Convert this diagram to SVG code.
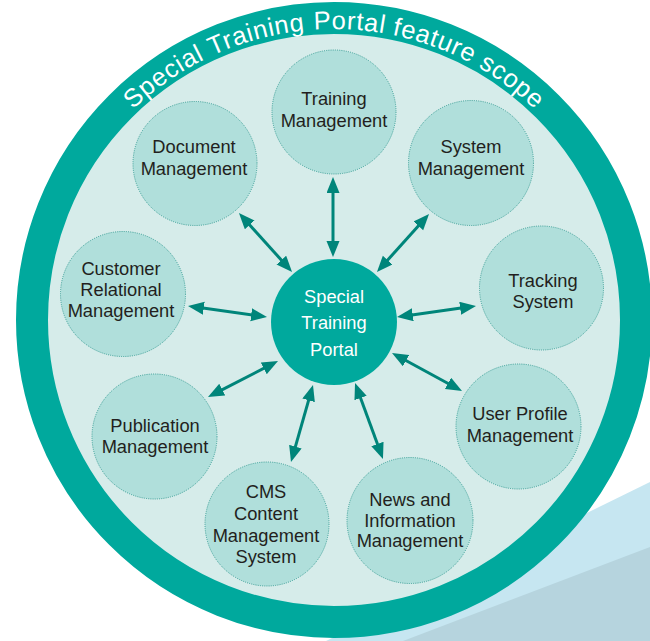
<svg xmlns="http://www.w3.org/2000/svg" width="650" height="641" viewBox="0 0 650 641">
<style>
.node circle{fill:#b0dfdb;stroke:#3a9e96;stroke-width:1;stroke-dasharray:1 1.2}
.lbl{font-family:"Liberation Sans",Arial,sans-serif;font-size:18.3px;fill:#231f20;text-anchor:middle}
.clbl{font-family:"Liberation Sans",Arial,sans-serif;font-size:18.3px;fill:#ffffff;text-anchor:middle}
.title{font-family:"Liberation Sans",Arial,sans-serif;font-size:25.5px;fill:#ffffff;letter-spacing:0.7px}
.conn line{stroke:#00857a;stroke-width:3;marker-start:url(#ah);marker-end:url(#ah)}
</style>
<defs>
<marker id="ah" markerUnits="userSpaceOnUse" markerWidth="18" markerHeight="14" refX="8" refY="6.5" orient="auto-start-reverse">
<path d="M0,0 L16,6.5 L0,13 z" fill="#00857a"/>
</marker>
<path id="arc" d="M 43,320 A 291 291 0 0 1 625,320"/>
</defs>
<rect width="650" height="641" fill="#ffffff"/>
<polygon points="650,482 326,641 650,641" fill="#c6e6f1"/>
<polygon points="650,547 403,641 650,641" fill="#b6d4de"/>
<g id="scope">
<circle cx="334" cy="320" r="302" fill="#d6ecea" stroke="#00a99d" stroke-width="32"/>
<text class="title"><textPath href="#arc" startOffset="235">Special</textPath></text>
<text class="title"><textPath href="#arc" startOffset="331.3">Training</textPath></text>
<text class="title"><textPath href="#arc" startOffset="436.8">Portal</textPath></text>
<text class="title"><textPath href="#arc" startOffset="515.4">feature</textPath></text>
<text class="title"><textPath href="#arc" startOffset="607.5">scope</textPath></text>
</g>
<g id="connectors" class="conn">
<line x1="333" y1="185" x2="333" y2="249"/>
<line x1="244.3" y1="219" x2="286.7" y2="266"/>
<line x1="423.7" y1="220" x2="382.3" y2="266"/>
<line x1="195.9" y1="307.1" x2="259.1" y2="315.9"/>
<line x1="468.1" y1="307.1" x2="404.9" y2="315.9"/>
<line x1="215.1" y1="393.3" x2="270.9" y2="364.7"/>
<line x1="455" y1="387.2" x2="399" y2="356.8"/>
<line x1="293.2" y1="454.3" x2="310.8" y2="392.7"/>
<line x1="380.2" y1="451.5" x2="357.8" y2="390.5"/>
</g>
<g id="center">
<circle cx="334" cy="322" r="63" fill="#00a99d"/>
<text class="clbl" x="334" y="303">Special</text>
<text class="clbl" x="334" y="329">Training</text>
<text class="clbl" x="334" y="356">Portal</text>
</g>
<g id="training" class="node">
<circle cx="334" cy="112" r="62"/>
<text class="lbl" x="334" y="105">Training</text>
<text class="lbl" x="334" y="127">Management</text>
</g>
<g id="document" class="node">
<circle cx="195" cy="163.5" r="62"/>
<text class="lbl" x="194" y="153">Document</text>
<text class="lbl" x="194" y="175">Management</text>
</g>
<g id="system" class="node">
<circle cx="471" cy="163" r="62.5"/>
<text class="lbl" x="471" y="153">System</text>
<text class="lbl" x="471" y="175">Management</text>
</g>
<g id="customer" class="node">
<circle cx="123" cy="294" r="62.5"/>
<text class="lbl" x="121" y="275">Customer</text>
<text class="lbl" x="121" y="296">Relational</text>
<text class="lbl" x="121" y="317">Management</text>
</g>
<g id="tracking" class="node">
<circle cx="541.5" cy="288" r="62"/>
<text class="lbl" x="543" y="287">Tracking</text>
<text class="lbl" x="543" y="308">System</text>
</g>
<g id="publication" class="node">
<circle cx="154.5" cy="436.5" r="62.5"/>
<text class="lbl" x="155" y="432">Publication</text>
<text class="lbl" x="155" y="453">Management</text>
</g>
<g id="userprofile" class="node">
<circle cx="518.5" cy="426.5" r="62.5"/>
<text class="lbl" x="520" y="420">User Profile</text>
<text class="lbl" x="520" y="442">Management</text>
</g>
<g id="cms" class="node">
<circle cx="267" cy="524" r="62"/>
<text class="lbl" x="266" y="498">CMS</text>
<text class="lbl" x="266" y="520">Content</text>
<text class="lbl" x="266" y="542">Management</text>
<text class="lbl" x="266" y="563">System</text>
</g>
<g id="news" class="node">
<circle cx="410" cy="520.5" r="63"/>
<text class="lbl" x="410" y="506">News and</text>
<text class="lbl" x="410" y="527">Information</text>
<text class="lbl" x="410" y="547">Management</text>
</g>
</svg>
